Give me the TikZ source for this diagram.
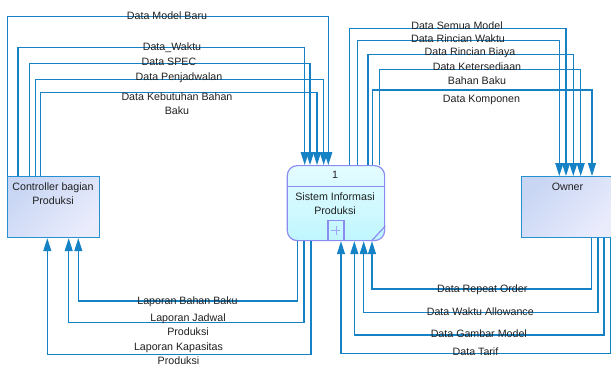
\documentclass[tikz,border=0pt]{standalone}
\usepackage{fontspec}
\setmainfont{Liberation Sans}
\usepackage{tikz}
\usetikzlibrary{arrows.meta,positioning,calc}
\usepackage{xcolor}
\definecolor{flowblue}{RGB}{22,130,198}
\definecolor{entline}{RGB}{36,144,210}
\definecolor{entlight}{RGB}{234,236,252}
\definecolor{entdark}{RGB}{200,214,244}
\definecolor{procline}{RGB}{140,140,240}
\definecolor{proclight}{RGB}{228,252,255}
\definecolor{procdark}{RGB}{192,246,254}
\definecolor{txtgray}{RGB}{32,32,32}

\begin{document}
\begin{tikzpicture}[x=0.75pt,y=-0.75pt,
  every node/.style={font=\fontsize{8pt}{10.5pt}\selectfont,text=txtgray},
  flow/.style={draw=flowblue,line width=0.9pt,-{Triangle[length=9.75pt,width=6pt]}},
  entity/.style={draw=entline,line width=0.9pt,top color=entdark,bottom color=entlight,
    shading angle=45,minimum width=69pt,minimum height=45.75pt,anchor=north west,inner sep=0pt},
  proc/.style={draw=procline,line width=0.9pt,top color=proclight,bottom color=procdark,
    rounded corners=7.5pt,minimum width=73pt,minimum height=56.25pt,anchor=north west,inner sep=0pt},
  lbl/.style={align=center,inner sep=0pt}]
  \useasboundingbox (0,0) rectangle (611,365);
  \clip (0,0) rectangle (611,365);

  % External entities and process
  \node[entity] (ctrl) at (7,176) {};
  \node[lbl] (ctrlname) at (53,194) {Controller bagian\\Produksi};
  \node[entity] (owner) at (521,176) {};
  \node[lbl] (ownername) at (567.5,187) {Owner};

  \node[proc] (sip) at (286.7,165) {};
  \node[lbl] (sipnum) at (335,175) {1};
  \node[lbl] (sipname) at (335,203.7) {Sistem Informasi\\Produksi};
  \draw[procline,line width=0.9pt] (sip.west |- 0,186.5) -- (sip.east |- 0,186.5);
  \node[draw=procline,line width=0.9pt,minimum width=12pt,minimum height=15pt,
    inner sep=0pt,anchor=south] (plus) at (sip.south) {};
  \draw[procline!80,line width=0.6pt] ($(plus.center)+(-4.5,0)$) -- ($(plus.center)+(4.5,0)$)
    ($(plus.center)+(0,-4.5)$) -- ($(plus.center)+(0,4.5)$);
  \draw[procline,line width=0.9pt] ($(sip.south east)+(-14,0)$) -- ($(sip.south east)+(0,-15)$);

  % Controller -> Sistem
  \foreach \xa/\yh/\xb in {7.5/16.7/328.3, 18/47.7/304.7, 29.7/63.3/310, 35.7/79.3/323.7, 40.7/92.7/317}
    \draw[flow] (\xa,0 |- ctrl.north) |- (\xb,\yh) -- (\xb,0 |- sip.north);

  % Sistem -> Owner
  \foreach \xa/\yh/\xb in {349.3/28.3/566, 357.7/40.7/559.3, 368/54.3/573.3, 379.7/69.3/580.7, 372.3/90/592}
    \draw[flow] (\xa,0 |- sip.north) |- (\xb,\yh) -- (\xb,0 |- owner.north);

  % Sistem -> Controller
  \foreach \xa/\yh/\xb in {297.7/301/78.3, 304/322.3/68.7, 311/354.7/47.3}
    \draw[flow] (\xa,0 |- sip.south) |- (\xb,\yh) -- (\xb,0 |- ctrl.south);

  % Owner -> Sistem
  \foreach \xa/\yh/\xb in {591.7/289/372, 598/312.3/363.7, 604/335/354.3, 611/353.3/341}
    \draw[flow] (\xa,0 |- owner.south) |- (\xb,\yh) -- (\xb,0 |- sip.south);

  % Flow labels
  \node[lbl] (fModel) at (167,16) {Data Model Baru};
  \node[lbl] (fWaktu) at (172,48) {Data\_Waktu};
  \node[lbl] (fSpec) at (169,62) {Data SPEC};
  \node[lbl] (fJadwal) at (179,78) {Data Penjadwalan};
  \node[lbl] (fBahan) at (177,103.5) {Data Kebutuhan Bahan\\Baku};

  \node[lbl] (fSemua) at (457,26) {Data Semua Model};
  \node[lbl] (fRWaktu) at (458,39) {Data Rincian Waktu};
  \node[lbl] (fBiaya) at (470,53) {Data Rincian Biaya};
  \node[lbl] (fSedia) at (477,74) {Data Ketersediaan\\Bahan Baku};
  \node[lbl] (fKomp) at (481.5,100) {Data Komponen};

  \node[lbl] (fLBahan) at (187.5,301.7) {Laporan Bahan Baku};
  \node[lbl] (fLJadwal) at (188,324.7) {Laporan Jadwal\\Produksi};
  \node[lbl] (fLKap) at (178.5,353.7) {Laporan Kapasitas\\Produksi};

  \node[lbl] (fRepeat) at (482.3,289.3) {Data Repeat Order};
  \node[lbl] (fAllow) at (480.3,312) {Data Waktu Allowance};
  \node[lbl] (fGambar) at (478.8,334) {Data Gambar Model};
  \node[lbl] (fTarif) at (475.5,352) {Data Tarif};
\end{tikzpicture}
\end{document}
